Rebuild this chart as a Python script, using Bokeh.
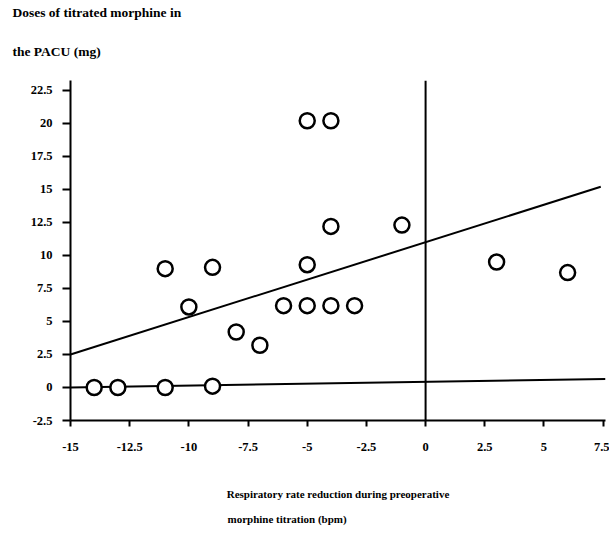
from bokeh.plotting import figure
from bokeh.models import FixedTicker, Span, Range1d, Title
from bokeh.embed import file_html
from bokeh.resources import INLINE

# data
resp_reduction = [-5, -4, -4, -11, -9, -5, -10, -6, -5, -4, -3, -8, -7,
                  -14, -13, -11, -9, -1, 3, 6]
morphine_dose = [20.2, 20.2, 12.2, 9.0, 9.1, 9.3, 6.1, 6.2, 6.2, 6.2, 6.2, 4.2, 3.2,
                 0.0, 0.0, 0.0, 0.1, 12.3, 9.5, 8.7]
fit_x = [-15, 7.4]
fit_y = [2.5, 15.2]
base_x = [-15, 7.6]
base_y = [0.0, 0.65]
x_ticks = [-15, -12.5, -10, -7.5, -5, -2.5, 0, 2.5, 5, 7.5]
x_tick_labels = ["-15", "-12.5", "-10", "-7.5", "-5", "-2.5", "0", "2.5", "5", "7.5"]
y_ticks = [-2.5, 0, 2.5, 5, 7.5, 10, 12.5, 15, 17.5, 20, 22.5]
y_tick_labels = ["-2.5", "0", "2.5", "5", "7.5", "10", "12.5", "15", "17.5", "20", "22.5"]
y_title_lines = ["Doses of titrated morphine in", "the PACU (mg)"]
x_title_lines = ["Respiratory rate reduction during preoperative", "morphine titration (bpm)"]

FONT = "Liberation Serif"
W, H = 609, 535
LEFT, TOP, BOTTOM_PX = 70, 80, 420

p = figure(width=W, height=H, output_backend="svg", toolbar_location=None,
           x_range=Range1d(-15, 7.6), y_range=Range1d(-2.5, 23.25),
           min_border_left=LEFT, min_border_right=4, min_border_top=TOP,
           min_border_bottom=H - BOTTOM_PX)
p.outline_line_color = None
p.xgrid.visible = False
p.ygrid.visible = False
p.background_fill_color = "white"

for ax, ticks, labels in ((p.xaxis[0], x_ticks, x_tick_labels), (p.yaxis[0], y_ticks, y_tick_labels)):
    ax.ticker = FixedTicker(ticks=ticks)
    ax.major_label_overrides = {t: l for t, l in zip(ticks, labels)}
    ax.minor_tick_line_color = None
    ax.axis_line_width = 2
    ax.major_tick_line_width = 2
    ax.major_tick_in = 0
    ax.major_label_text_font = FONT
    ax.major_label_text_font_style = "bold"
    ax.major_label_text_font_size = "12.5px"
    ax.major_label_text_color = "black"
    ax.axis_line_color = "black"
    ax.major_tick_line_color = "black"

p.xaxis.major_tick_out = 6
p.xaxis.major_label_standoff = 16
p.yaxis.major_tick_out = 8
p.yaxis.major_label_standoff = 10

# first line of the x title as the axis label
p.xaxis.axis_label = x_title_lines[0]
p.xaxis.axis_label_standoff = 34
p.xaxis.axis_label_text_font = FONT
p.xaxis.axis_label_text_font_style = "bold"
p.xaxis.axis_label_text_font_size = "11px"
p.xaxis.axis_label_text_color = "black"

def style_title(t, offset, standoff, size):
    t.align = "left"
    t.offset = offset
    t.standoff = standoff
    t.text_font = FONT
    t.text_font_style = "bold"
    t.text_font_size = size
    t.text_color = "black"

# y title (two lines above the plot); the default title is the outermost
p.title.text = y_title_lines[0]
style_title(p.title, -58, 1, "13.5px")
t_inner = Title(text=y_title_lines[1])
style_title(t_inner, -58, 43, "13.5px")
p.add_layout(t_inner, "above")

# second line of the x title
t_x2 = Title(text=x_title_lines[1])
style_title(t_x2, 157, 16, "11px")
p.add_layout(t_x2, "below")

p.add_layout(Span(location=0, dimension="height", line_color="black", line_width=2))
p.line(fit_x, fit_y, line_color="black", line_width=2)
p.line(base_x, base_y, line_color="black", line_width=2)
p.scatter(resp_reduction, morphine_dose, marker="circle", size=15,
          fill_color="white", line_color="black", line_width=2.5)

open("out.html", "w").write(file_html(p, INLINE))
